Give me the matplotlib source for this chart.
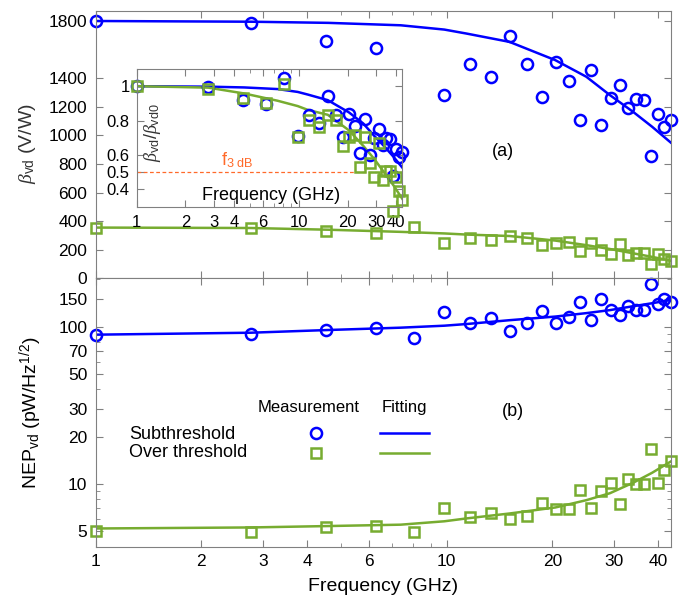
import numpy as np
import matplotlib
matplotlib.use('Agg')
import matplotlib.pyplot as plt
from matplotlib.ticker import FixedLocator, NullFormatter

plt.rcParams['font.family'] = ['Liberation Sans', 'DejaVu Sans']
plt.rcParams['mathtext.fontset'] = 'custom'
plt.rcParams['mathtext.rm'] = 'Liberation Sans'
plt.rcParams['mathtext.it'] = 'Liberation Serif:italic'
plt.rcParams['mathtext.sf'] = 'Liberation Sans'

# measurement frequencies (GHz)
freq = [1.0, 2.77, 4.54, 6.31, 8.08, 9.85, 11.62, 13.39, 15.16, 16.93, 18.7, 20.47,
        22.24, 24.01, 25.78, 27.55, 29.32, 31.09, 32.86, 34.63, 36.4, 38.17, 39.94,
        41.71, 43.48]

# responsivity beta_vd (V/W)
beta_sub = [1800, 1787, 1660, 1612, 1886, 1281, 1498, 1411, 1693, 1502, 1265, 1514,
            1383, 1106, 1458, 1076, 1262, 1353, 1188, 1255, 1246, 856, 1148, 1059, 1110]
beta_over = [355, 350, 331, 320, 359, 250, 285, 271, 296, 285, 231, 250,
             254, 189, 250, 196, 168, 238, 161, 180, 180, 98, 168, 138, 121]

# NEP_vd (pW/Hz^1/2)
nep_sub = [88.6, 89.5, 95.3, 98.6, 84.4, 124, 106, 113, 93.9, 106, 126, 105,
           115, 144, 110, 149, 128, 119, 136, 128, 128, 187, 139, 151, 143]
nep_over = [5.05, 4.97, 5.35, 5.43, 4.93, 7.0, 6.14, 6.57, 5.99, 6.26, 7.61, 6.9,
            6.9, 9.16, 7.0, 9.03, 10.2, 7.46, 10.76, 9.96, 9.96, 16.8, 10.2, 12.3, 14.0]

# fitting curves
fit_f = [1.0, 2.77, 4.6, 7.4, 9.85, 11.4, 15.1, 20.4, 25.0, 29.2, 34.0, 38.5, 43.48]
fit_beta_sub = [1800, 1795, 1787, 1770, 1740, 1712, 1654, 1526, 1410, 1281, 1164, 1060, 950]
fit_beta_over = [355, 352, 340, 325, 314, 306, 296, 264, 232, 205, 175, 150, 123]
fit_nep_sub = [89.0, 91.6, 95.3, 98.6, 101.5, 104, 110, 116, 122, 127.5, 135, 141, 148]
fit_nep_over = [5.22, 5.3, 5.41, 5.52, 5.8, 6.05, 6.5, 7.1, 7.9, 8.75, 10.2, 11.8, 13.9]

blue = '#0000ff'
green = '#77ac30'
orange = '#ff6a2a'
axc = '#808080'

xticks = [1, 2, 3, 4, 6, 10, 20, 30, 40]
xminor = [5, 7, 8, 9]


def style(ax, size=12.5):
    for s in ax.spines.values():
        s.set_color(axc)
    ax.tick_params(which='both', direction='in', top=True, right=True, colors=axc,
                   labelcolor='black', labelsize=size)
    ax.tick_params(which='major', length=5)
    ax.tick_params(which='minor', length=3)


fig = plt.figure(figsize=(6.83, 6.04), dpi=100)
ax1 = fig.add_axes([0.14, 0.5392, 0.842, 0.4426])
ax2 = fig.add_axes([0.14, 0.0949, 0.842, 0.4443])
ax3 = fig.add_axes([0.2001, 0.6578, 0.3888, 0.2280])

ylim1 = (0, 1870)
f = np.array(freq)
bs = np.array(beta_sub, dtype=float)
inside = bs <= ylim1[1]

# (a) responsivity
ax1.plot(fit_f, fit_beta_sub, color=blue, lw=1.8)
ax1.plot(fit_f, fit_beta_over, color=green, lw=1.8)
ax1.plot(f[inside], bs[inside], 'o', mfc='none', mec=blue, mew=1.8, ms=8, clip_on=False)
ax1.plot(freq, beta_over, 's', mfc='none', mec=green, mew=1.8, ms=6.5, clip_on=False)
ax1.set_xscale('log')
ax1.set_xlim(1, 43.48)
ax1.set_ylim(*ylim1)
ax1.set_yticks([0, 200, 400, 600, 800, 1000, 1200, 1400, 1800])
ax1.xaxis.set_major_locator(FixedLocator(xticks))
ax1.xaxis.set_minor_locator(FixedLocator(xminor))
ax1.xaxis.set_major_formatter(NullFormatter())
ax1.xaxis.set_minor_formatter(NullFormatter())
style(ax1)
ax1.tick_params(axis='y', pad=6)
ax1.text(0.709, 0.4736, '(a)', transform=ax1.transAxes, fontsize=13, ha='center', va='center')
fig.text(0.04, 0.7616, r'$\beta_{\mathrm{vd}}$ (V/W)', rotation=90, fontsize=14,
         ha='center', va='center', color='#333333')

# inset: normalised responsivity
b0s = beta_sub[0]
b0o = beta_over[0]
ax3.axhline(0.5, color=orange, lw=0.9, ls=(0, (3, 2)))
ax3.plot(fit_f, np.array(fit_beta_sub) / b0s, color=blue, lw=1.8)
ax3.plot(fit_f, np.array(fit_beta_over) / b0o, color=green, lw=1.8)
ax3.plot(freq, bs / b0s, 'o', mfc='none', mec=blue, mew=1.8, ms=8, clip_on=False)
ax3.plot(freq, np.array(beta_over) / b0o, 's', mfc='none', mec=green, mew=1.8, ms=6.5,
         clip_on=False)
ax3.set_xscale('log')
ax3.set_xlim(1, 43.48)
ax3.set_ylim(0.3, 1.1)
ax3.set_yticks([0.4, 0.5, 0.6, 0.8, 1.0])
ax3.set_yticklabels(['0.4', '0.5', '0.6', '0.8', '1'])
ax3.xaxis.set_major_locator(FixedLocator(xticks))
ax3.xaxis.set_minor_locator(FixedLocator(xminor))
ax3.set_xticklabels([str(t) for t in xticks])
ax3.xaxis.set_minor_formatter(NullFormatter())
style(ax3, 12)
ax3.tick_params(axis='x', pad=6)
ax3.tick_params(axis='y', pad=5)
ax3.text(0.06, 0.535, r'$\beta_{\mathrm{vd}}/\beta_{\mathrm{vd0}}$', transform=ax3.transAxes,
         rotation=90, fontsize=13, ha='center', va='center', color='#333333')
ax3.text(0.506, 0.08, 'Frequency (GHz)', transform=ax3.transAxes, fontsize=13,
         ha='center', va='center')
ax3.text(3.3, 0.515, r'$\mathrm{f}_{\mathrm{3\ dB}}$', color=orange, fontsize=13,
         ha='left', va='bottom')

# (b) NEP
ax2.plot(fit_f, fit_nep_sub, color=blue, lw=1.8)
ax2.plot(fit_f, fit_nep_over, color=green, lw=1.8)
ax2.plot(freq, nep_sub, 'o', mfc='none', mec=blue, mew=1.8, ms=8, clip_on=False)
ax2.plot(freq, nep_over, 's', mfc='none', mec=green, mew=1.8, ms=6.5, clip_on=False)
ax2.set_xscale('log')
ax2.set_yscale('log')
ax2.set_xlim(1, 43.48)
ax2.set_ylim(4, 203)
ax2.xaxis.set_major_locator(FixedLocator(xticks))
ax2.xaxis.set_minor_locator(FixedLocator(xminor))
ax2.set_xticklabels([str(t) for t in xticks])
ax2.xaxis.set_minor_formatter(NullFormatter())
yt = [5, 10, 20, 30, 50, 70, 100, 150]
ax2.yaxis.set_major_locator(FixedLocator(yt))
ax2.yaxis.set_minor_locator(FixedLocator([4, 6, 7, 8, 9, 40, 60, 80, 90, 200]))
ax2.set_yticklabels([str(t) for t in yt])
ax2.yaxis.set_minor_formatter(NullFormatter())
style(ax2)
ax2.tick_params(axis='x', pad=5)
ax2.tick_params(axis='y', pad=6)
ax2.set_xlabel('Frequency (GHz)', fontsize=14, labelpad=7)
fig.text(0.046, 0.316, r'NEP$_{\mathrm{vd}}$ (pW/Hz$^{\mathrm{1/2}}$)', rotation=90,
         fontsize=14, ha='center', va='center')

# hand-made legend
t = ax2.transAxes
ax2.text(0.2824, 0.518, 'Measurement', transform=t, fontsize=12, va='center')
ax2.text(0.4975, 0.518, 'Fitting', transform=t, fontsize=12, va='center')
ax2.text(0.058, 0.4175, 'Subthreshold', transform=t, fontsize=13, va='center')
ax2.text(0.058, 0.35, 'Over threshold', transform=t, fontsize=13, va='center')
ax2.plot([0.3833], [0.4225], 'o', mfc='none', mec=blue, mew=1.8, ms=8, transform=t)
ax2.plot([0.3833], [0.3488], 's', mfc='none', mec=green, mew=1.8, ms=6.5, transform=t)
ax2.plot([0.4945, 0.580], [0.4225, 0.4225], color=blue, lw=1.8, transform=t)
ax2.plot([0.4945, 0.580], [0.3488, 0.3488], color=green, lw=1.8, transform=t)
ax2.text(0.7253, 0.503, '(b)', transform=t, fontsize=13, ha='center', va='center')

fig.savefig('out.png', dpi=100)
